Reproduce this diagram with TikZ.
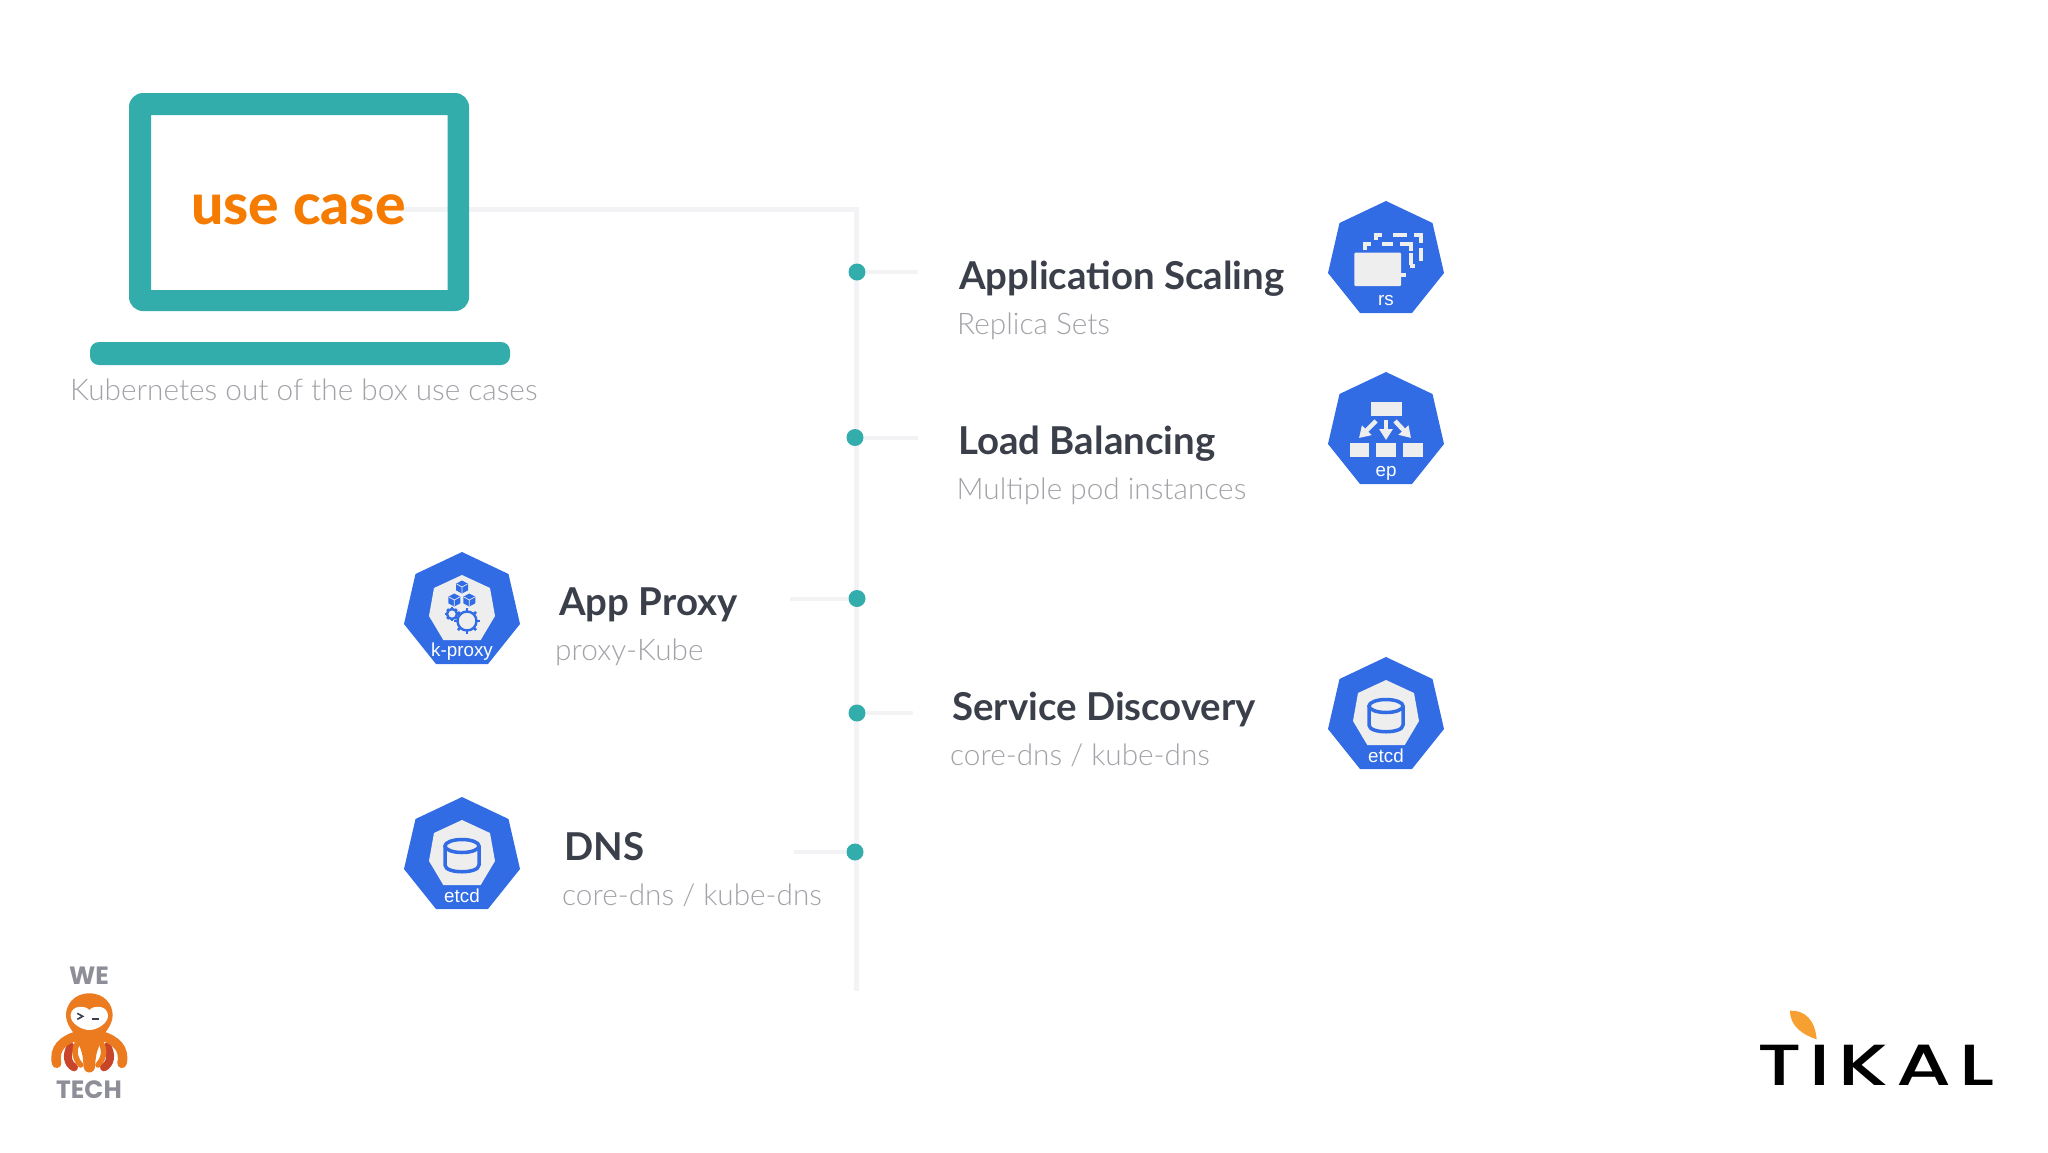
\documentclass[tikz,border=0pt]{standalone}
\usepackage{fontspec}
\setmainfont{Lato}
\newfontfamily\latolight{Lato Light}
\newfontfamily\latoheavy{Lato Heavy}
\newfontfamily\arialf{Liberation Sans}
\newfontfamily\tikalf[LetterSpace=10]{Poppins Medium}
\newfontfamily\wef{Poppins}[BoldFont=* Bold]
\usetikzlibrary{arrows.meta}
\definecolor{teal1}{HTML}{33ADAB}
\definecolor{kblue}{HTML}{326CE5}
\definecolor{ucase}{HTML}{F57C00}
\definecolor{headc}{HTML}{3A3F4A}
\definecolor{subc}{HTML}{A2A2A8}
\definecolor{linec}{HTML}{F3F3F5}
\definecolor{iconl}{HTML}{EEEEEE}
\definecolor{octo}{HTML}{EC7A1E}
\definecolor{octor}{HTML}{C8452A}
\definecolor{weg}{HTML}{8E8E98}
\definecolor{leafc}{HTML}{F5A030}
\tikzset{
  trunk/.style={draw=linec,line width=5pt},
  tick/.style={draw=linec,line width=4pt},
  bdot/.style={circle,fill=teal1,minimum size=17pt,inner sep=0pt},
  head/.style={anchor=base west,inner sep=0pt,text=headc,font=\fontsize{38.4}{40}\selectfont\bfseries},
  sub/.style={anchor=base west,inner sep=0pt,text=subc,font=\fontsize{29.75}{34}\selectfont\latolight},
  hlabel/.style={inner sep=0pt,text=white,font=\fontsize{18.8}{20}\selectfont\arialf},
  bluel/.style={draw=kblue,line width=3.5pt},
  dashl/.style={draw=iconl,line width=3.4pt},
  eparrow/.style={draw=iconl,line width=4.5pt,-{Triangle[width=13pt,length=11pt]}},
}
\newcommand{\heptagon}[1]{\fill[#1] (0,0) -- (46.5,22) -- (58,72) -- (26,112) -- (-26,112) -- (-58,72) -- (-46.5,22) -- cycle;}
\newcommand{\innerhept}{\fill[iconl] (0,23) -- (28,36) -- (33,64) -- (18.7,88) -- (-18.7,88) -- (-33,64) -- (-28,36) -- cycle;}
\newcommand{\cyl}{%
  \draw[bluel,rounded corners=1pt] (-17,49) -- (-17,67) .. controls (-17,77) and (17,77) .. (17,67) -- (17,49);
  \draw[bluel] (0,49) ellipse (17 and 6.5);
}
\newcommand{\mycube}[2]{%
  \fill[kblue] (#1,#2-6.5) -- (#1+6,#2-3.3) -- (#1+6,#2+3.3) -- (#1,#2+6.5) -- (#1-6,#2+3.3) -- (#1-6,#2-3.3) -- cycle;
  \draw[iconl,line width=.7pt] (#1,#2+6) -- (#1,#2) -- (#1-5.4,#2-3) (#1,#2) -- (#1+5.4,#2-3);
}
\newcommand{\mygear}[3]{%
  \foreach \a in {0,45,...,315}
    \draw[kblue,line width=2.8pt] (#1,#2) ++(\a:#3) -- ++(\a:#3*0.35);
  \draw[kblue,line width=2.4pt,fill=iconl] (#1,#2) circle (#3);
}
\begin{document}
\begin{tikzpicture}[x=1pt,y=-1pt]
\useasboundingbox (0,0) rectangle (2048,1152);
\fill[white] (0,0) rectangle (2048,1152);

% connector coordinates
\coordinate (linestart) at (400,209);
\coordinate (corner) at (856,209);
\coordinate (trunkend) at (856,991);

\draw[trunk] (linestart) -- (corner) -- (trunkend);

% laptop
\fill[teal1,even odd rule] [rounded corners=14pt] (129,93) rectangle (469,311) [sharp corners] (151,115) rectangle (447.5,290);
\node[inner sep=0pt,text=ucase,font=\fontsize{57}{59}\selectfont\latoheavy] (usecase) at (298.5,209.5) {use case};
\fill[teal1,rounded corners=9pt] (90,342) rectangle (510,365);
\node[sub] (kub) at (70,400) {Kubernetes out of the box use cases};

% dots
\node[bdot] (d1) at (857,272) {};
\node[bdot] (d2) at (855,437.5) {};
\node[bdot] (d3) at (857,598.5) {};
\node[bdot] (d4) at (857,713) {};
\node[bdot] (d5) at (855,852) {};
\coordinate (t1) at (918,272);
\coordinate (t2) at (918,437.5);
\coordinate (t3) at (790,598.5);
\coordinate (t4) at (913,713);
\coordinate (t5) at (794,852);
\draw[tick] (d1) -- (t1);
\draw[tick] (d2) -- (t2);
\draw[tick] (d3) -- (t3);
\draw[tick] (d4) -- (t4);
\draw[tick] (d5) -- (t5);

% labels
\node[head] (h1) at (959,289) {Application Scaling};
\node[sub]  (s1) at (957,334) {Replica Sets};
\node[head] (h2) at (958,454) {Load Balancing};
\node[sub]  (s2) at (956.5,499) {Multiple pod instances};
\node[head] (h3) at (559,615.5) {App Proxy};
\node[sub]  (s3) at (555,660) {proxy-Kube};
\node[head] (h4) at (952,720.5) {Service Discovery};
\node[sub]  (s4) at (950,765) {core-dns / kube-dns};
\node[head] (h5) at (564,860) {DNS};
\node[sub]  (s5) at (562,905) {core-dns / kube-dns};

% rs
\begin{scope}[shift={(1386,201)}]
\heptagon{kblue}
\fill[iconl,rounded corners=1pt] (-31.7,51.7) rectangle (15,85);
\draw[dashl] (15,74) -- (20,74) (24,65) -- (29,65);
\draw[dashl] (-21,49) -- (-21,43) -- (-15,43) (-4,43) -- (7,43) (14,43) -- (25,43) -- (25,50) (25,52) -- (25,64);
\draw[dashl] (-10,39) -- (-10,34) -- (-4,34) (7,34) -- (21,34) (28,34) -- (35,34) -- (35,42) (35,47) -- (35,60);
\node[hlabel] (rslab) at (0,100) {rs};
\end{scope}

% ep
\begin{scope}[shift={(1386,372)}]
\heptagon{kblue}
\fill[iconl] (-15.3,30) rectangle (15.7,44.3);
\fill[iconl] (-36,71) rectangle (-16.7,85);
\fill[iconl] (-9.7,71) rectangle (10,85);
\fill[iconl] (17,71) rectangle (36.7,85);
\draw[eparrow] (0,48) -- (0,68);
\draw[eparrow] (-10,49) -- (-27,66);
\draw[eparrow] (9,49) -- (25,66);
\node[hlabel] (eplab) at (0,101) {ep};
\end{scope}

% k-proxy
\begin{scope}[shift={(462,552)}]
\heptagon{kblue}
\innerhept
\mycube{0}{35}
\mycube{-7.7}{48}
\mycube{7.3}{48}
\mygear{-10}{62}{5}
\mygear{5}{69}{9.5}
\node[hlabel] (kplab) at (0,99.5) {k-proxy};
\end{scope}

% etcd right
\begin{scope}[shift={(1386,657)}]
\heptagon{kblue}
\innerhept
\cyl
\node[hlabel] (e1lab) at (0,99) {etcd};
\end{scope}

% etcd left
\begin{scope}[shift={(462,797)}]
\heptagon{kblue}
\innerhept
\cyl
\node[hlabel] (e2lab) at (0,98.5) {etcd};
\end{scope}

% WE TECH
\node[inner sep=0pt,text=weg,font=\fontsize{25}{27}\selectfont\wef\bfseries] (we) at (89,976) {WE};
\node[inner sep=0pt,text=weg,font=\fontsize{25}{27}\selectfont\wef\bfseries] (tech) at (89,1090) {TECH};
\begin{scope}[shift={(30,950)},x=0.3333pt,y=-0.3333pt]
\draw[octor,line width=8pt,line cap=round] (122,290) .. controls (108,315) and (112,340) .. (132,352);
\draw[octor,line width=8pt,line cap=round] (232,290) .. controls (246,315) and (242,340) .. (222,352);
\draw[octo,line width=9.5pt,line cap=round] (140,258) .. controls (100,270) and (70,295) .. (80,340);
\draw[octo,line width=9.5pt,line cap=round] (216,258) .. controls (256,270) and (286,295) .. (276,340);
\fill[octo] (178,130) .. controls (225,130) and (248,165) .. (248,195) .. controls (248,225) and (225,245) .. (218,262)
  .. controls (212,285) and (196,300) .. (196,345) .. controls (196,375) and (160,375) .. (160,345)
  .. controls (160,300) and (144,285) .. (138,262) .. controls (131,245) and (108,225) .. (108,195) .. controls (108,165) and (131,130) .. (178,130) -- cycle;
\draw[octo,line width=5.5pt,line cap=round] (150,265) .. controls (130,295) and (130,320) .. (152,345);
\draw[octo,line width=5.5pt,line cap=round] (206,265) .. controls (226,295) and (226,320) .. (204,345);
\fill[white] (178,180) .. controls (165,165) and (125,165) .. (122,195) .. controls (120,220) and (155,240) .. (178,240)
  .. controls (201,240) and (236,220) .. (234,195) .. controls (231,165) and (191,165) .. (178,180) -- cycle;
\draw[headc,line width=1.6pt] (142,190) -- (158,199) -- (142,208);
\draw[headc,line width=2pt] (185,208) -- (208,208);
\end{scope}

% TIKAL
\node[anchor=base,inner sep=0pt,text=black,font=\fontsize{58}{60}\selectfont\tikalf] (tikal) at (1876,1085) {\scalebox{1.36}[1]{TIKAL}};
\begin{scope}[shift={(1740,990)},x=0.3333pt,y=-0.3333pt]
\fill[leafc] (150,62) .. controls (195,60) and (225,90) .. (230,148) .. controls (190,135) and (150,110) .. (150,62) -- cycle;
\end{scope}
\end{tikzpicture}
\end{document}
